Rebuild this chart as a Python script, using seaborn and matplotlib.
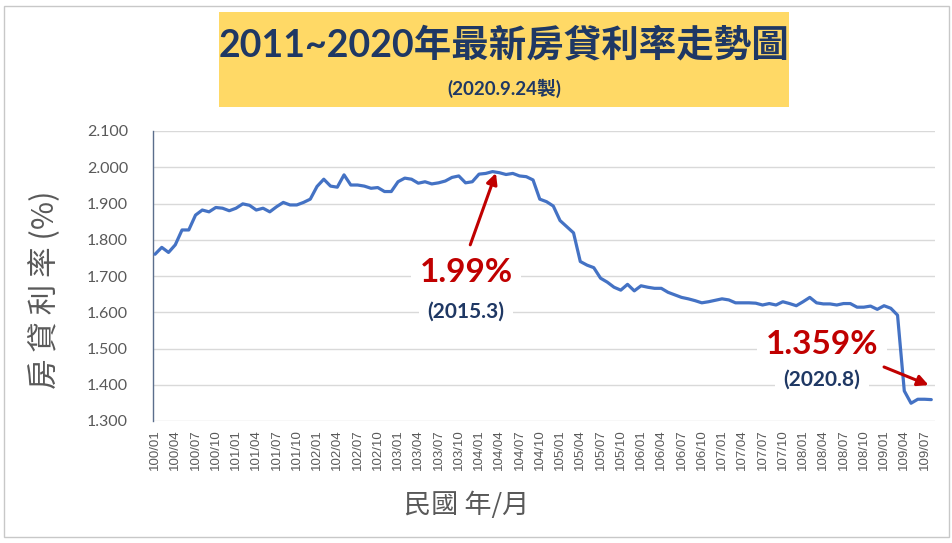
import pandas as pd
import matplotlib.pyplot as plt
import seaborn as sns
from matplotlib.patches import Rectangle

# monthly mortgage rate (%) from 100/01 (2011/01) to 109/08 (2020/08)
months = [f"{y}/{m:02d}" for y in range(100, 110) for m in range(1, 13)][:116]
rates = [
    1.760, 1.779, 1.765, 1.786, 1.827, 1.827, 1.868, 1.882, 1.877, 1.889, 1.887, 1.880,
    1.887, 1.899, 1.895, 1.882, 1.887, 1.877, 1.891, 1.903, 1.896, 1.896, 1.903, 1.912,
    1.947, 1.967, 1.948, 1.945, 1.979, 1.951, 1.951, 1.948, 1.942, 1.944, 1.933, 1.933,
    1.960, 1.970, 1.967, 1.956, 1.960, 1.954, 1.957, 1.962, 1.972, 1.976, 1.957, 1.960,
    1.981, 1.983, 1.988, 1.985, 1.980, 1.983, 1.976, 1.974, 1.965, 1.912, 1.905, 1.893,
    1.853, 1.836, 1.819, 1.740, 1.730, 1.723, 1.694, 1.683, 1.669, 1.661, 1.677, 1.659,
    1.673, 1.669, 1.666, 1.666, 1.655, 1.648, 1.641, 1.637, 1.632, 1.626, 1.629, 1.633,
    1.637, 1.634, 1.626, 1.626, 1.626, 1.625, 1.620, 1.624, 1.620, 1.629, 1.624, 1.618,
    1.629, 1.641, 1.626, 1.623, 1.623, 1.620, 1.624, 1.624, 1.614, 1.614, 1.617, 1.608,
    1.618, 1.611, 1.592, 1.383, 1.349, 1.360, 1.360, 1.359,
]
yticks = [1.3, 1.4, 1.5, 1.6, 1.7, 1.8, 1.9, 2.0, 2.1]

df = pd.DataFrame({"idx": range(len(rates)), "month": months, "rate": rates})

sns.set_style("white")
plt.rcParams["font.family"] = ["Lato", "Noto Sans CJK TC", "DejaVu Sans"]

navy = "#1F3864"
red = "#C00000"
gray = "#595959"
spine = "#5B6E8C"
cjk = ["Noto Sans CJK TC", "DejaVu Sans"]

fig = plt.figure(figsize=(9.53, 5.43), dpi=100)
fig.patch.set_facecolor("white")
fig.patches.append(Rectangle((4 / 953, 6 / 543), 945 / 953, 531 / 543, transform=fig.transFigure,
                             fill=False, edgecolor="#C8C8C8", lw=1))

# title box
fig.patches.append(Rectangle((219 / 953, 1 - 107 / 543), 570 / 953, 95 / 543, transform=fig.transFigure,
                             facecolor="#FFD966", edgecolor="none"))
fig.text(504 / 953, 1 - 45 / 543, "2011~2020年最新房貸利率走勢圖", ha="center", va="center",
         fontsize=27, fontweight="bold", color=navy)
fig.text(504 / 953, 1 - 88 / 543, "(2020.9.24製)", ha="center", va="center",
         fontsize=13.5, fontweight="bold", color=navy)

ax = fig.add_axes([153 / 953, 1 - 421 / 543, 782 / 953, 290 / 543])
sns.lineplot(data=df, x="idx", y="rate", ax=ax, color="#4472C4", lw=2.3, zorder=6)

ax.set_xlim(-0.3, 115.55)
ax.set_ylim(1.3, 2.1)
ax.set_yticks(yticks)
ax.set_yticklabels([f"{v:.3f}" for v in yticks], fontsize=11.5, color=gray)
ax.set_xticks(df["idx"][::3])
ax.set_xticklabels(df["month"][::3], rotation=90, fontsize=9.5, color=gray,
                   family=["Liberation Sans", "DejaVu Sans"])
ax.tick_params(axis="x", length=0, pad=6)
ax.tick_params(axis="y", length=6, width=1, color=spine, direction="out", pad=12)
ax.grid(axis="y", color="#D9D9D9", lw=1)
ax.set_axisbelow(True)
for s in ["top", "right", "bottom"]:
    ax.spines[s].set_visible(False)
ax.spines["left"].set_color(spine)
ax.spines["left"].set_linewidth(1)
ax.set_xlabel("")
ax.set_ylabel("")

fig.text(45 / 953, 1 - 290 / 543, "房 貸 利 率 (%)", rotation=90, ha="center", va="center",
         fontsize=22, fontweight="medium", color=gray, family=cjk)
fig.text(467 / 953, 1 - 505 / 543, "民國 年/月", ha="center", va="center",
         fontsize=19.5, color=gray, family=cjk)

# annotations
box = dict(facecolor="white", edgecolor="none", pad=6)
ax.text(46.1, 1.711, "1.99%", ha="center", va="center", fontsize=24, fontweight="bold",
        color=red, bbox=box, zorder=4)
ax.text(46.1, 1.603, "(2015.3)", ha="center", va="center", fontsize=15, fontweight="bold",
        color=navy, bbox=box, zorder=4)
ax.text(98.8, 1.512, "1.359%", ha="center", va="center", fontsize=24, fontweight="bold",
        color=red, bbox=box, zorder=4)
ax.text(98.8, 1.413, "(2020.8)", ha="center", va="center", fontsize=15, fontweight="bold",
        color=navy, bbox=box, zorder=4)

arrow = dict(arrowstyle="-|>", color=red, lw=2.2, mutation_scale=16, shrinkA=0, shrinkB=0)
ax.annotate("", xy=(50.5, 1.984), xytext=(46.7, 1.786), arrowprops=arrow, zorder=7)
ax.annotate("", xy=(114.6, 1.399), xytext=(108.0, 1.449), arrowprops=arrow, zorder=7)

fig.savefig("out.png", dpi=100, facecolor="white")
